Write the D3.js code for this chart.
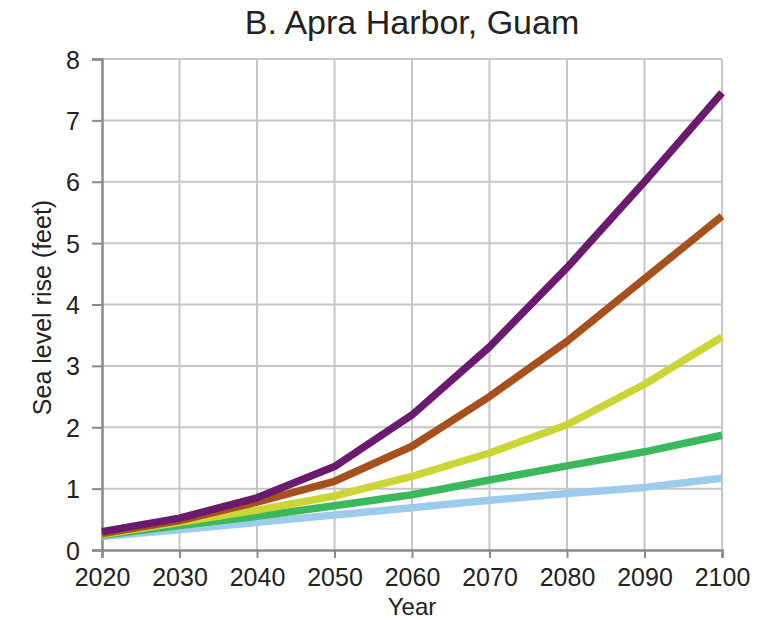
<!DOCTYPE html>
<html>
<head>
<meta charset="utf-8">
<script src="https://cdn.jsdelivr.net/npm/d3@7"></script>
<style>
  html, body { margin: 0; padding: 0; background: #fff; }
  svg { display: block; }
  text { font-family: "Liberation Sans", Arial, sans-serif; fill: #222; }
</style>
</head>
<body>
<svg id="chart" width="770" height="620"></svg>
<script>
// Projected sea level rise scenarios for Apra Harbor, Guam (feet)
const years = [2020, 2030, 2040, 2050, 2060, 2070, 2080, 2090, 2100];
const extreme      = [0.30, 0.52, 0.85, 1.36, 2.20, 3.31, 4.60, 6.00, 7.45];
const high         = [0.27, 0.48, 0.78, 1.12, 1.69, 2.50, 3.40, 4.42, 5.44];
const intermediate = [0.25, 0.45, 0.65, 0.88, 1.20, 1.58, 2.04, 2.70, 3.47];
const intLow       = [0.24, 0.40, 0.55, 0.72, 0.90, 1.14, 1.37, 1.60, 1.87];
const low          = [0.22, 0.33, 0.45, 0.57, 0.69, 0.81, 0.92, 1.02, 1.17];

const seriesNames  = ["Low", "Intermediate-Low", "Intermediate", "High", "Extreme"];
const seriesValues = [low, intLow, intermediate, high, extreme];
const seriesColors = ["#9dcbec", "#3bb75c", "#cbd636", "#a6511d", "#6a1b6e"];

const xTicks = [2020, 2030, 2040, 2050, 2060, 2070, 2080, 2090, 2100];
const yTicks = [0, 1, 2, 3, 4, 5, 6, 7, 8];

const margin = { left: 102, right: 48, top: 59, bottom: 70 };
const W = 770, H = 620;
const svg = d3.select("#chart");

const x = d3.scaleLinear().domain([2020, 2100]).range([margin.left, W - margin.right]);
const y = d3.scaleLinear().domain([0, 8]).range([H - margin.bottom, margin.top]);

// grid
const grid = svg.append("g");
grid.selectAll("line.v").data(xTicks.slice(1)).join("line")
  .attr("x1", d => x(d)).attr("x2", d => x(d))
  .attr("y1", y(0)).attr("y2", y(8))
  .attr("stroke", "#c6c6c6").attr("stroke-width", 2);
grid.selectAll("line.h").data(yTicks.slice(1)).join("line")
  .attr("x1", x(2020)).attr("x2", x(2100))
  .attr("y1", d => y(d)).attr("y2", d => y(d))
  .attr("stroke", "#c6c6c6").attr("stroke-width", 2);

// axes
const xAxis = svg.append("g")
  .attr("transform", `translate(0,${y(0)})`)
  .call(d3.axisBottom(x).tickValues(xTicks).tickFormat(d3.format("d")).tickSize(8).tickPadding(10));
const yAxis = svg.append("g")
  .attr("transform", `translate(${x(2020)},0)`)
  .call(d3.axisLeft(y).tickValues(yTicks).tickFormat(d3.format("d")).tickSize(10).tickPadding(12));
[xAxis, yAxis].forEach(g => {
  g.select(".domain").attr("stroke", "#8a8a8a").attr("stroke-width", 2.5);
  g.selectAll(".tick line").attr("stroke", "#8a8a8a").attr("stroke-width", 2);
  g.selectAll(".tick text").attr("font-size", 25).attr("font-family", "Liberation Sans, Arial, sans-serif").attr("fill", "#222");
});
yAxis.selectAll(".tick text").attr("dy", "0.36em");

// lines
const line = d3.line().x((d, i) => x(years[i])).y(d => y(d)).curve(d3.curveLinear);
svg.append("g").selectAll("path").data(seriesValues).join("path")
  .attr("d", d => line(d))
  .attr("fill", "none")
  .attr("stroke", (d, i) => seriesColors[i])
  .attr("stroke-width", 7.5)
  .attr("stroke-linejoin", "round");

// titles
svg.append("text").attr("x", 412).attr("y", 34).attr("text-anchor", "middle")
  .attr("font-size", 34).text("B. Apra Harbor, Guam");
svg.append("text").attr("x", x(2060)).attr("y", 615).attr("text-anchor", "middle")
  .attr("font-size", 24).text("Year");
svg.append("text").attr("transform", `translate(51,${(y(0) + y(8)) / 2 + 3}) rotate(-90)`)
  .attr("text-anchor", "middle").attr("font-size", 25).text("Sea level rise (feet)");
</script>
</body>
</html>
